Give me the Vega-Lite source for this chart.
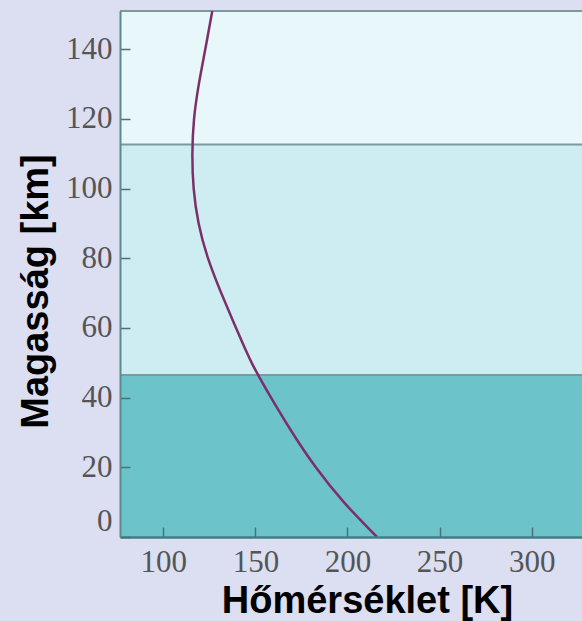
{
  "$schema": "https://vega.github.io/schema/vega-lite/v6.json",
  "width": 462,
  "height": 526,
  "autosize": {"type": "none"},
  "padding": {"left": 120, "top": 11, "right": 0, "bottom": 84},
  "background": "#dcdef2",
  "config": {"view": {"stroke": null}},
  "datasets": {
    "bands": [
      {"lo": 0, "hi": 46.5, "layer": "troposphere"},
      {"lo": 46.5, "hi": 112.7, "layer": "middle"},
      {"lo": 112.7, "hi": 151, "layer": "upper"}
    ],
    "lines": [
      {"alt": 46.5},
      {"alt": 112.7},
      {"alt": 151}
    ],
    "profile": [
      {"alt": 0, "T": 216},
      {"alt": 10, "T": 198},
      {"alt": 20, "T": 182.8},
      {"alt": 30, "T": 170},
      {"alt": 40, "T": 158.5},
      {"alt": 50, "T": 148},
      {"alt": 60, "T": 139.5},
      {"alt": 70, "T": 131.5},
      {"alt": 80, "T": 124.3},
      {"alt": 90, "T": 119.2},
      {"alt": 100, "T": 116.5},
      {"alt": 110, "T": 115.8},
      {"alt": 120, "T": 116.7},
      {"alt": 130, "T": 119.3},
      {"alt": 140, "T": 122.8},
      {"alt": 151, "T": 126.6}
    ]
  },
  "layer": [
    {
      "data": {"name": "bands"},
      "mark": {"type": "rect"},
      "encoding": {
        "y": {
          "field": "lo", "type": "quantitative",
          "scale": {"domain": [0, 151], "nice": false, "zero": false},
          "axis": {
            "title": "Magasság [km]",
            "values": [0, 20, 40, 60, 80, 100, 120, 140],
            "grid": false,
            "zindex": 1,
            "domainColor": "#5b8a8d",
            "domainWidth": 2,
            "tickColor": "#4d7274",
            "tickSize": -10,
            "tickWidth": 1.5,
            "labelPadding": 18,
            "labelFlush": true,
            "labelFont": "Liberation Serif",
            "labelFontSize": 31,
            "labelColor": "#555555",
            "titleFont": "Liberation Sans",
            "titleFontWeight": "bold",
            "titleFontSize": 38,
            "titleColor": "#000000",
            "titleAngle": -90,
            "titleX": -73,
            "titleY": 280,
            "titleBaseline": "alphabetic",
            "titleAlign": "center"
          }
        },
        "y2": {"field": "hi"},
        "color": {
          "field": "layer", "type": "nominal", "legend": null,
          "scale": {"domain": ["troposphere", "middle", "upper"], "range": ["#6cc4ca", "#cdedf2", "#e7f7fa"]}
        }
      }
    },
    {
      "data": {"name": "lines"},
      "mark": {"type": "rule", "color": "#7e999b", "strokeWidth": 2},
      "encoding": {
        "y": {"field": "alt", "type": "quantitative", "title": "Magasság [km]"}
      }
    },
    {
      "data": {"name": "profile"},
      "mark": {"type": "line", "color": "#7d2f69", "strokeWidth": 2.5, "interpolate": "natural", "clip": true},
      "encoding": {
        "x": {
          "field": "T", "type": "quantitative",
          "scale": {"domain": [76.5, 327.3], "nice": false, "zero": false},
          "axis": {
            "title": "Hőmérséklet [K]",
            "values": [100, 150, 200, 250, 300],
            "grid": false,
            "zindex": 1,
            "domainColor": "#3f7f83",
            "domainWidth": 2.5,
            "tickColor": "#4d7274",
            "tickSize": -10,
            "tickWidth": 1.5,
            "labelPadding": 20,
            "labelFont": "Liberation Serif",
            "labelFontSize": 31,
            "labelColor": "#555555",
            "titleFont": "Liberation Sans",
            "titleFontWeight": "bold",
            "titleFontSize": 38,
            "titleColor": "#000000",
            "titleX": 247,
            "titleY": 75,
            "titleBaseline": "alphabetic",
            "titleAlign": "center"
          }
        },
        "y": {"field": "alt", "type": "quantitative", "title": "Magasság [km]"},
        "order": {"field": "alt", "type": "quantitative"}
      }
    }
  ]
}
